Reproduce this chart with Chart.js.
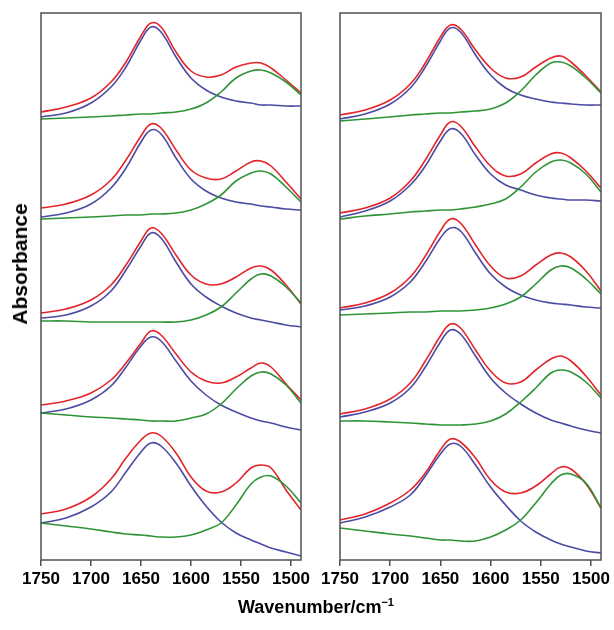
<!DOCTYPE html>
<html>
<head>
<meta charset="utf-8">
<script src="https://cdn.jsdelivr.net/npm/chart.js@4.4.0/dist/chart.umd.min.js"></script>
<style>
body { margin: 0; background: #fff; width: 614px; height: 630px; position: relative; overflow: hidden;
       font-family: "Liberation Sans", Arial, sans-serif; }
#left { position: absolute; left: 0; top: 0; }
#right { position: absolute; left: 307px; top: 0; }
.ylab { position: absolute; left: 20px; top: 264px; transform: translate(-50%, -50%) rotate(-90deg);
        font-weight: bold; font-size: 21px; white-space: nowrap; }
.xlab { position: absolute; left: 316px; top: 607px; transform: translate(-50%, -50%);
        font-weight: bold; font-size: 18px; white-space: nowrap; }
</style>
</head>
<body>
<canvas id="left" width="320" height="600"></canvas>
<canvas id="right" width="307" height="600"></canvas>
<div class="ylab">Absorbance</div>
<div class="xlab">Wavenumber/cm<sup style="font-size:11px">−1</sup></div>
<script>
// wavenumber grid (cm-1) shared by every trace
var wavenumbers = [1750, 1725, 1700, 1680, 1665, 1650, 1640, 1630, 1615, 1600, 1585, 1570, 1555, 1540, 1530, 1520, 1505, 1490];
var xTicks = [1750, 1700, 1650, 1600, 1550, 1500];

// left panel, top to bottom (stacked absorbance)
var leftSum = [
	[4.48, 4.53, 4.62, 4.78, 4.98, 5.24, 5.37, 5.33, 5.08, 4.89, 4.83, 4.85, 4.93, 4.97, 4.97, 4.92, 4.80, 4.67],
	[3.52, 3.56, 3.65, 3.80, 4.00, 4.24, 4.36, 4.32, 4.10, 3.90, 3.82, 3.81, 3.89, 3.98, 3.99, 3.94, 3.78, 3.61],
	[2.47, 2.51, 2.60, 2.75, 2.95, 3.19, 3.32, 3.27, 3.05, 2.85, 2.76, 2.76, 2.83, 2.92, 2.94, 2.90, 2.75, 2.56],
	[1.55, 1.59, 1.67, 1.80, 1.97, 2.17, 2.29, 2.25, 2.06, 1.88, 1.79, 1.77, 1.83, 1.92, 1.97, 1.93, 1.76, 1.60],
	[0.46, 0.51, 0.63, 0.81, 1.02, 1.20, 1.27, 1.24, 1.07, 0.83, 0.69, 0.68, 0.77, 0.92, 0.95, 0.92, 0.70, 0.50]
];
var leftAmideI = [
	[4.43, 4.47, 4.57, 4.73, 4.93, 5.20, 5.33, 5.28, 5.03, 4.82, 4.70, 4.63, 4.59, 4.57, 4.55, 4.55, 4.54, 4.54],
	[3.43, 3.47, 3.56, 3.72, 3.92, 4.18, 4.30, 4.26, 4.02, 3.81, 3.69, 3.62, 3.58, 3.56, 3.54, 3.53, 3.51, 3.50],
	[2.42, 2.45, 2.54, 2.69, 2.90, 3.14, 3.27, 3.22, 2.98, 2.76, 2.63, 2.54, 2.47, 2.42, 2.40, 2.38, 2.35, 2.33],
	[1.47, 1.51, 1.60, 1.74, 1.93, 2.14, 2.23, 2.19, 1.99, 1.79, 1.65, 1.55, 1.48, 1.42, 1.39, 1.37, 1.33, 1.30],
	[0.37, 0.42, 0.53, 0.68, 0.88, 1.08, 1.17, 1.14, 0.97, 0.74, 0.54, 0.38, 0.27, 0.20, 0.16, 0.12, 0.08, 0.04]
];
var leftAmideII = [
	[4.41, 4.42, 4.43, 4.44, 4.45, 4.46, 4.46, 4.47, 4.48, 4.51, 4.57, 4.68, 4.82, 4.89, 4.90, 4.87, 4.78, 4.65],
	[3.41, 3.42, 3.43, 3.44, 3.45, 3.45, 3.46, 3.46, 3.47, 3.50, 3.56, 3.65, 3.79, 3.87, 3.89, 3.86, 3.73, 3.58],
	[2.39, 2.39, 2.38, 2.38, 2.38, 2.38, 2.38, 2.38, 2.38, 2.40, 2.45, 2.53, 2.67, 2.81, 2.86, 2.84, 2.73, 2.57],
	[1.47, 1.45, 1.43, 1.42, 1.41, 1.40, 1.39, 1.39, 1.39, 1.42, 1.46, 1.56, 1.71, 1.84, 1.88, 1.86, 1.75, 1.57],
	[0.37, 0.34, 0.31, 0.28, 0.26, 0.25, 0.24, 0.23, 0.23, 0.25, 0.30, 0.37, 0.55, 0.76, 0.83, 0.84, 0.74, 0.57]
];

// right panel
var rightSum = [
	[4.45, 4.50, 4.60, 4.76, 4.97, 5.23, 5.35, 5.31, 5.10, 4.92, 4.82, 4.83, 4.93, 5.02, 5.04, 4.98, 4.84, 4.68],
	[3.47, 3.52, 3.62, 3.79, 4.00, 4.25, 4.38, 4.34, 4.13, 3.94, 3.84, 3.86, 3.97, 4.06, 4.07, 4.02, 3.89, 3.72],
	[2.52, 2.57, 2.67, 2.83, 3.04, 3.29, 3.41, 3.37, 3.15, 2.94, 2.82, 2.84, 2.95, 3.05, 3.07, 3.03, 2.89, 2.69],
	[1.46, 1.51, 1.61, 1.77, 1.99, 2.24, 2.36, 2.32, 2.10, 1.89, 1.77, 1.78, 1.90, 2.01, 2.04, 1.99, 1.84, 1.65],
	[0.40, 0.46, 0.57, 0.70, 0.87, 1.10, 1.21, 1.18, 1.02, 0.80, 0.68, 0.67, 0.74, 0.86, 0.93, 0.91, 0.76, 0.52]
];
var rightAmideI = [
	[4.41, 4.46, 4.56, 4.72, 4.93, 5.19, 5.32, 5.28, 5.05, 4.85, 4.72, 4.65, 4.61, 4.58, 4.57, 4.56, 4.55, 4.55],
	[3.43, 3.49, 3.59, 3.75, 3.94, 4.19, 4.31, 4.27, 4.05, 3.86, 3.75, 3.70, 3.65, 3.62, 3.61, 3.60, 3.60, 3.59],
	[2.50, 2.54, 2.63, 2.78, 2.98, 3.22, 3.32, 3.29, 3.07, 2.86, 2.73, 2.65, 2.60, 2.57, 2.56, 2.55, 2.53, 2.52],
	[1.43, 1.48, 1.57, 1.72, 1.93, 2.18, 2.30, 2.26, 2.04, 1.82, 1.67, 1.56, 1.47, 1.40, 1.37, 1.34, 1.30, 1.27],
	[0.37, 0.43, 0.53, 0.65, 0.84, 1.06, 1.16, 1.14, 0.95, 0.73, 0.55, 0.39, 0.28, 0.20, 0.16, 0.13, 0.09, 0.07]
];
var rightAmideII = [
	[4.39, 4.41, 4.43, 4.45, 4.46, 4.47, 4.47, 4.48, 4.49, 4.51, 4.57, 4.69, 4.85, 4.97, 4.98, 4.94, 4.82, 4.67],
	[3.41, 3.44, 3.46, 3.48, 3.49, 3.50, 3.50, 3.51, 3.53, 3.56, 3.61, 3.73, 3.88, 3.98, 4.00, 3.97, 3.86, 3.68],
	[2.45, 2.46, 2.47, 2.48, 2.48, 2.49, 2.49, 2.49, 2.50, 2.52, 2.56, 2.63, 2.76, 2.90, 2.94, 2.92, 2.81, 2.66],
	[1.39, 1.39, 1.38, 1.37, 1.36, 1.35, 1.35, 1.35, 1.36, 1.39, 1.46, 1.58, 1.72, 1.87, 1.90, 1.88, 1.78, 1.62],
	[0.32, 0.29, 0.26, 0.24, 0.22, 0.20, 0.20, 0.19, 0.19, 0.23, 0.30, 0.40, 0.57, 0.76, 0.85, 0.86, 0.77, 0.52]
];

var colors = { sum: '#e3242b', amideI: '#4b4ba3', amideII: '#2f9437' };

var frame = {
	id: 'frame',
	afterDraw: function (chart) {
		var a = chart.chartArea, c = chart.ctx;
		c.save();
		c.strokeStyle = '#505050';
		c.lineWidth = 1.5;
		c.strokeRect(a.left, a.top, a.right - a.left, a.bottom - a.top);
		c.restore();
	}
};

var line = (ys, color) => ({
	data: ys.map((y, i) => ({ x: wavenumbers[i], y: y })),
	borderColor: color,
	borderWidth: 1.6,
	pointRadius: 0,
	fill: false,
	tension: 0.4
});

var makeChart = (id, sum, amI, amII, pad) => {
	var datasets = [];
	for (var k = 0; k < sum.length; k++) {
		datasets.push(line(amII[k], colors.amideII));
		datasets.push(line(amI[k], colors.amideI));
		datasets.push(line(sum[k], colors.sum));
	}
	return new Chart(document.getElementById(id), {
		type: 'line',
		data: { datasets: datasets },
		plugins: [frame],
		options: {
			responsive: false,
			animation: false,
			layout: { padding: pad },
			plugins: { legend: { display: false }, tooltip: { enabled: false } },
			scales: {
				x: {
					type: 'linear',
					reverse: true,
					min: 1490,
					max: 1750,
					afterBuildTicks: s => { s.ticks = xTicks.map(v => ({ value: v })); },
					afterFit: s => { s.height = 40; },
					grid: { drawOnChartArea: false, drawTicks: true, tickLength: 6, color: '#505050', lineWidth: 1.5 },
					border: { display: false },
					ticks: {
						color: '#000', padding: 3, maxRotation: 0,
						callback: v => String(v),
						font: { family: '"Liberation Sans", Arial', size: 17, weight: 'bold' }
					}
				},
				y: { display: false, min: 0, max: 5.47 }
			}
		}
	});
};

makeChart('left', leftSum, leftAmideI, leftAmideII, { left: 41, right: 19, top: 13, bottom: 0 });
makeChart('right', rightSum, rightAmideI, rightAmideII, { left: 33, right: 13, top: 13, bottom: 0 });
</script>
</body>
</html>
